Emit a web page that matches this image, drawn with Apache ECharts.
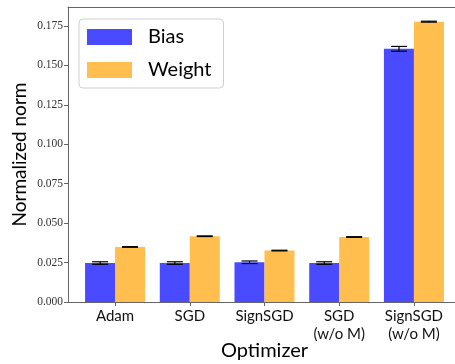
<!DOCTYPE html>
<html>
<head>
<meta charset="utf-8">
<script src="https://cdn.jsdelivr.net/npm/echarts@6/dist/echarts.min.js"></script>
<style>
  html, body { margin: 0; padding: 0; background: #fff; }
  #chart { width: 455px; height: 364px; }
</style>
</head>
<body>
<div id="chart"></div>
<script>
const categories = ['Adam', 'SGD', 'SignSGD', 'SGD\n(w/o M)', 'SignSGD\n(w/o M)']
const biasMean = [0.0247, 0.0247, 0.0252, 0.0247, 0.1605]
const biasErr = [0.0008, 0.0008, 0.0008, 0.0008, 0.0015]
const weightMean = [0.0349, 0.0417, 0.0326, 0.0412, 0.1777]
const weightErr = [0.0002, 0.0002, 0.0002, 0.0002, 0.0003]
const yTicks = [0, 0.025, 0.05, 0.075, 0.1, 0.125, 0.15, 0.175]
const xTicks = [0, 1, 2, 3, 4]

const sansFont = 'Lato'
const serifFont = 'Liberation Serif'
const spineColor = '#666'

// error bar drawn at a category index shifted by a fraction of a unit
function errorBars(offset) {
  return function (params, api) {
    const x = api.value(0) + offset
    const m = api.value(1)
    const e = api.value(2)
    const lo = api.coord([x, m - e])
    const hi = api.coord([x, m + e])
    const cap = 8
    const style = { stroke: '#000', lineWidth: 1.2 }
    return {
      type: 'group',
      children: [
        { type: 'line', shape: { x1: lo[0], y1: lo[1], x2: hi[0], y2: hi[1] }, style },
        { type: 'line', shape: { x1: lo[0] - cap, y1: lo[1], x2: lo[0] + cap, y2: lo[1] }, style },
        { type: 'line', shape: { x1: hi[0] - cap, y1: hi[1], x2: hi[0] + cap, y2: hi[1] }, style }
      ]
    }
  }
}

const chart = echarts.init(document.getElementById('chart'))

const option = {
  animation: false,
  backgroundColor: '#fff',
  grid: { left: 68, right: -6, top: 7, bottom: 62, outerBoundsMode: 'none', containLabel: false },
  legend: {
    orient: 'vertical',
    left: 79,
    top: 19,
    icon: 'rect',
    itemWidth: 45,
    itemHeight: 16,
    itemGap: 13,
    padding: [8, 12, 8, 8],
    borderColor: '#d0d0d0',
    borderWidth: 1,
    borderRadius: 4,
    backgroundColor: '#fff',
    textStyle: { fontFamily: sansFont, fontSize: 20, color: '#000', padding: [0, 0, 0, 11] },
    data: ['Bias', 'Weight']
  },
  xAxis: [
    {
      type: 'value',
      min: -0.63,
      max: 4.63,
      name: 'Optimizer',
      nameLocation: 'middle',
      nameGap: 39,
      nameMoveOverlap: false,
      nameTextStyle: { fontFamily: sansFont, fontSize: 20, color: '#000' },
      axisLine: { show: true, onZero: false, lineStyle: { color: spineColor, width: 1 } },
      axisTick: { show: true, customValues: xTicks, length: 4, lineStyle: { color: spineColor } },
      axisLabel: {
        customValues: xTicks,
        formatter: v => categories[Math.round(v)],
        fontFamily: sansFont,
        fontSize: 15,
        lineHeight: 18,
        color: '#111',
        margin: 5
      },
      splitLine: { show: false }
    },
    {
      type: 'value',
      position: 'top',
      min: -0.63,
      max: 4.63,
      axisLine: { show: true, onZero: false, lineStyle: { color: spineColor, width: 1 } },
      axisTick: { show: false },
      axisLabel: { show: false },
      splitLine: { show: false }
    }
  ],
  yAxis: {
    type: 'value',
    min: 0,
    max: 0.187,
    name: 'Normalized norm',
    nameLocation: 'middle',
    nameGap: 39,
    nameMoveOverlap: false,
    nameTextStyle: { fontFamily: sansFont, fontSize: 19, color: '#000' },
    axisLine: { show: true, onZero: false, lineStyle: { color: spineColor, width: 1 } },
    axisTick: { show: true, customValues: yTicks, length: 4, lineStyle: { color: spineColor } },
    axisLabel: {
      customValues: yTicks,
      formatter: v => v.toFixed(3),
      fontFamily: serifFont,
      fontSize: 11.5,
      color: '#333',
      margin: 5
    },
    splitLine: { show: false }
  },
  series: [
    {
      name: 'Bias',
      type: 'bar',
      barWidth: 30,
      barGap: '0%',
      itemStyle: { color: '#4a4aff' },
      data: biasMean.map((v, i) => [i, v])
    },
    {
      name: 'Weight',
      type: 'bar',
      barWidth: 30,
      barGap: '0%',
      itemStyle: { color: '#ffbe4d' },
      data: weightMean.map((v, i) => [i, v])
    },
    {
      type: 'custom',
      renderItem: errorBars(-0.2),
      z: 10,
      data: biasMean.map((v, i) => [i, v, biasErr[i]])
    },
    {
      type: 'custom',
      renderItem: errorBars(0.2),
      z: 10,
      data: weightMean.map((v, i) => [i, v, weightErr[i]])
    }
  ]
}

chart.setOption(option)
</script>
</body>
</html>
